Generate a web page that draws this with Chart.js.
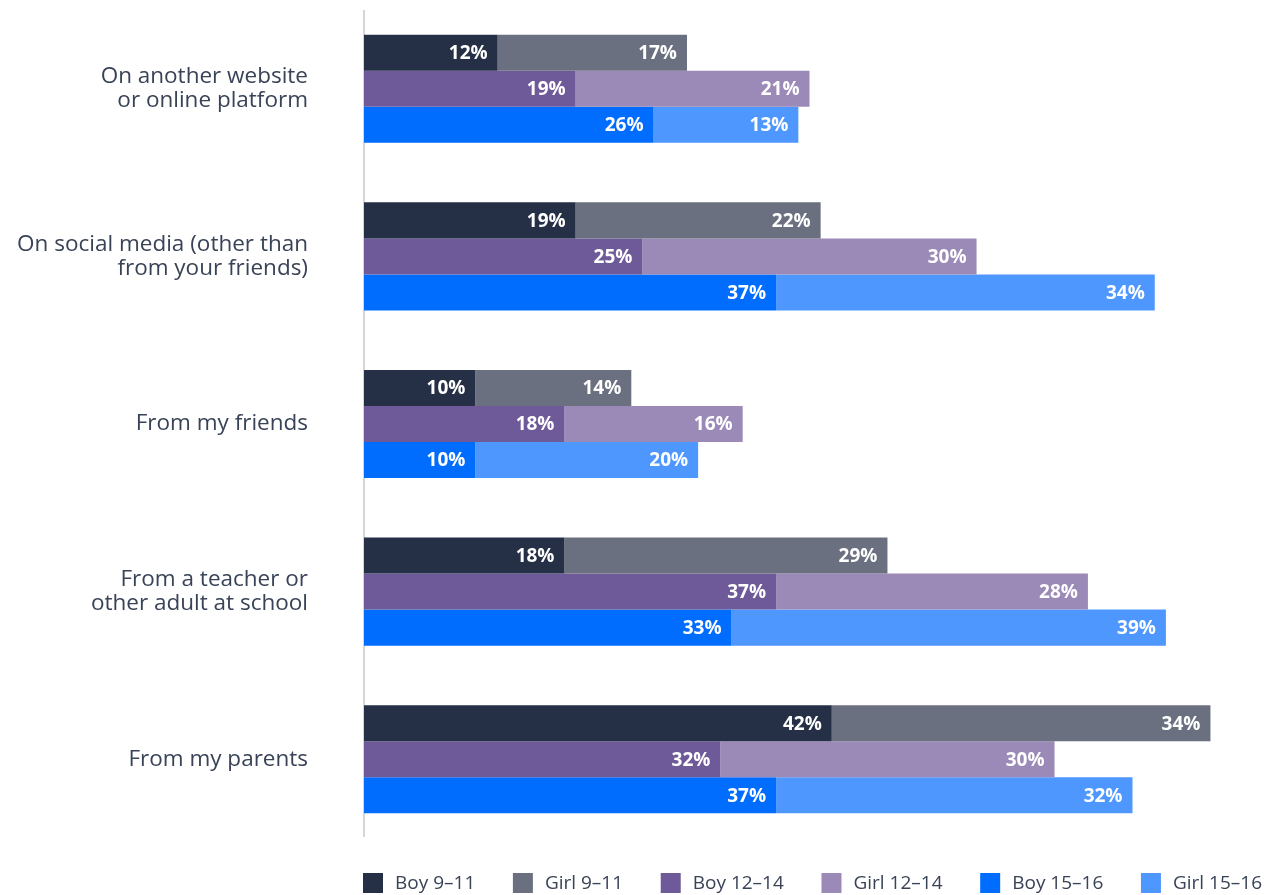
<!DOCTYPE html>
<html>
<head>
<meta charset="utf-8">
<title>Where young people hear about it</title>
<script src="https://cdn.jsdelivr.net/npm/chart.js@4.4.1/dist/chart.umd.min.js"></script>
<style>
  html, body { margin: 0; padding: 0; background: #ffffff; }
  #wrap { width: 1273px; height: 895px; position: relative; }
</style>
</head>
<body>
<div id="wrap"><canvas id="chart"></canvas></div>
<script>
// Sources, one row per category (multi-line labels as arrays)
const categories = [
  ['On another website', 'or online platform'],
  ['On social media (other than', 'from your friends)'],
  'From my friends',
  ['From a teacher or', 'other adult at school'],
  'From my parents'
];

// Percentages per group, in category order
const boy9to11   = [12, 19, 10, 18, 42];
const girl9to11  = [17, 22, 14, 29, 34];
const boy12to14  = [19, 25, 18, 37, 32];
const girl12to14 = [21, 30, 16, 28, 30];
const boy15to16  = [26, 37, 10, 33, 37];
const girl15to16 = [13, 34, 20, 39, 32];

const seriesNames = ['Boy 9–11', 'Girl 9–11', 'Boy 12–14', 'Girl 12–14', 'Boy 15–16', 'Girl 15–16'];
const seriesColors = ['#253046', '#6a707f', '#6f5a99', '#9b8ab7', '#006dff', '#4e97ff'];

const textColor = '#394357';
const fontFamily = '"Open Sans", "Liberation Sans", sans-serif';

// Thin baseline along the category axis, slightly inset from the plot's ends
const axisLine = {
  id: 'axisLine',
  beforeDatasetsDraw(chart) {
    const ctx = chart.ctx;
    const a = chart.chartArea;
    ctx.save();
    ctx.strokeStyle = '#c9c9cc';
    ctx.lineWidth = 1.5;
    ctx.beginPath();
    ctx.moveTo(a.left, a.top + 5);
    ctx.lineTo(a.left, a.bottom - 6);
    ctx.stroke();
    ctx.restore();
  }
};

// Writes each bar's value inside its right end
const barValueLabels = {
  id: 'barValueLabels',
  afterDatasetsDraw(chart) {
    const ctx = chart.ctx;
    ctx.save();
    ctx.font = '700 19px ' + fontFamily;
    ctx.fillStyle = '#ffffff';
    ctx.textAlign = 'right';
    ctx.textBaseline = 'middle';
    chart.data.datasets.forEach((ds, i) => {
      const meta = chart.getDatasetMeta(i);
      meta.data.forEach((bar, j) => {
        ctx.fillText(ds.data[j] + '%', bar.x - 10, bar.y + 1);
      });
    });
    ctx.restore();
  }
};

// Single-row legend under the plot, spanning from the axis line to the right edge
const rowLegend = {
  id: 'rowLegend',
  afterDraw(chart) {
    const ctx = chart.ctx;
    const area = chart.chartArea;
    const box = 20, textGap = 12;
    const left = area.left - 1, right = chart.width - 11;
    const top = chart.height - 22;
    ctx.save();
    ctx.font = '19px ' + fontFamily;
    ctx.textBaseline = 'middle';
    ctx.textAlign = 'left';
    const items = chart.data.datasets.map(ds => ({
      label: ds.label, color: ds.backgroundColor,
      w: box + textGap + ctx.measureText(ds.label).width
    }));
    const used = items.reduce((s, it) => s + it.w, 0);
    const gap = (right - left - used) / (items.length - 1);
    let x = left;
    items.forEach(it => {
      ctx.fillStyle = it.color;
      ctx.fillRect(x, top, box, box);
      ctx.fillStyle = textColor;
      ctx.fillText(it.label, x + box + textGap, top + box / 2 + 1);
      x += it.w + gap;
    });
    ctx.restore();
  }
};

new Chart(document.getElementById('chart'), {
  type: 'bar',
  data: {
    labels: categories,
    datasets: seriesNames.map((name, i) => ({
      label: name,
      data: [boy9to11, girl9to11, boy12to14, girl12to14, boy15to16, girl15to16][i],
      backgroundColor: seriesColors[i],
      stack: 'g' + Math.floor(i / 2)
    }))
  },
  options: {
    indexAxis: 'y',
    responsive: true,
    maintainAspectRatio: false,
    animation: false,
    categoryPercentage: 0.645,
    barPercentage: 1.0,
    layout: { padding: { top: 5, right: 18, bottom: 52, left: 0 } },
    scales: {
      x: {
        display: false,
        stacked: true,
        min: 0,
        max: 80
      },
      y: {
        stacked: true,
        grid: { display: false, drawTicks: false },
        border: { display: false },
        afterFit(scale) {
          // fixed label column; the label gap should not pad the plot vertically
          scale.width = 364;
          scale.paddingTop = 0;
          scale.paddingBottom = 0;
        },
        ticks: {
          color: textColor,
          padding: 56,
          font: { family: fontFamily, size: 22.5, lineHeight: 1.08 }
        }
      }
    },
    plugins: {
      tooltip: { enabled: false },
      legend: { display: false }
    }
  },
  plugins: [axisLine, barValueLabels, rowLegend]
});
</script>
</body>
</html>
